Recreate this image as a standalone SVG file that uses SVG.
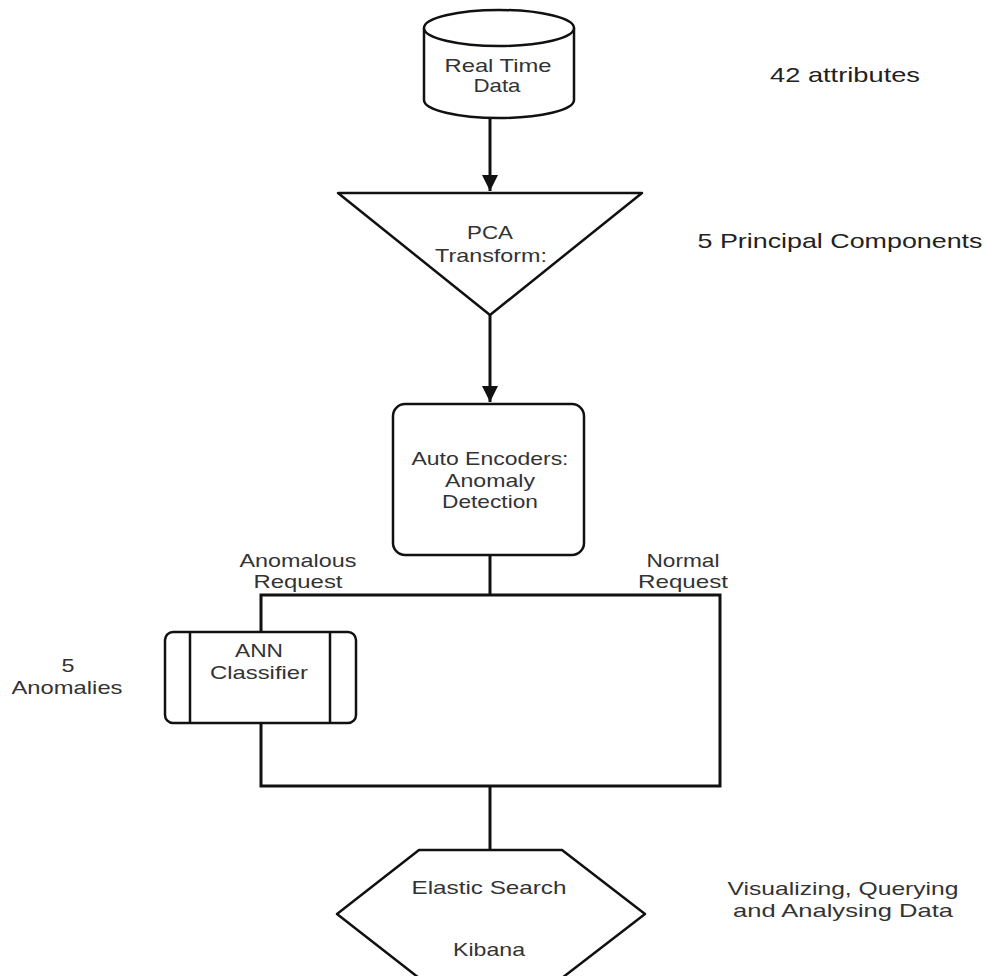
<svg xmlns="http://www.w3.org/2000/svg" width="987" height="976" viewBox="0 0 987 976">
<defs>
<style>
.shape{fill:#fff;stroke:#111;stroke-width:2.5;stroke-linejoin:round}
.conn{fill:none;stroke:#111;stroke-width:3}
text{font-family:"Liberation Sans",Arial,sans-serif;font-size:19px;fill:#333;text-anchor:middle}
.big{font-size:21px;fill:#222}
</style>
<marker id="arr" markerUnits="userSpaceOnUse" markerWidth="18" markerHeight="18" viewBox="0 0 18 18" refX="16" refY="9" orient="auto">
<path d="M0,1 L16,9 L0,17 z" fill="#111"/>
</marker>
</defs>
<rect width="987" height="976" fill="#fff"/>
<g id="connectors">
<path class="conn" d="M490,118 V191" marker-end="url(#arr)"/>
<path class="conn" d="M490,315 V402" marker-end="url(#arr)"/>
<path class="conn" d="M490,555 V595"/>
<path class="conn" d="M261,632 V595 H720 V786 H261 V723"/>
<path class="conn" d="M490,786 V850"/>
</g>
<g id="real-time-data">
<path class="shape" d="M424,28 A75,18 0 0,1 574,28 V100 A75,18 0 0,1 424,100 Z"/>
<path class="shape" fill="none" d="M424,28 A75,18 0 0,0 574,28"/>
<text x="498" y="72" textLength="107" lengthAdjust="spacingAndGlyphs">Real Time</text>
<text x="497" y="92" textLength="47" lengthAdjust="spacingAndGlyphs">Data</text>
</g>
<g id="pca">
<path class="shape" d="M338,193 H642 L490,315 Z"/>
<text x="490" y="239" textLength="46" lengthAdjust="spacingAndGlyphs">PCA</text>
<text x="491" y="262" textLength="112" lengthAdjust="spacingAndGlyphs">Transform:</text>
</g>
<g id="autoencoder">
<rect class="shape" x="393" y="404" width="191" height="151" rx="12"/>
<text x="490" y="465" textLength="157" lengthAdjust="spacingAndGlyphs">Auto Encoders:</text>
<text x="490" y="487" textLength="90" lengthAdjust="spacingAndGlyphs">Anomaly</text>
<text x="490" y="508" textLength="96" lengthAdjust="spacingAndGlyphs">Detection</text>
</g>
<g id="ann">
<rect class="shape" x="165" y="632" width="191" height="91" rx="8"/>
<line class="shape" x1="190" y1="632" x2="190" y2="723" stroke-width="2"/>
<line class="shape" x1="330" y1="632" x2="330" y2="723" stroke-width="2"/>
<text x="259" y="657" textLength="48" lengthAdjust="spacingAndGlyphs">ANN</text>
<text x="259" y="679" textLength="98" lengthAdjust="spacingAndGlyphs">Classifier</text>
</g>
<g id="elastic">
<path class="shape" d="M419,850 H562 L645,914 L562,978 H419 L337,914 Z"/>
<text x="489" y="894" textLength="155" lengthAdjust="spacingAndGlyphs">Elastic  Search</text>
<text x="489" y="956" textLength="72" lengthAdjust="spacingAndGlyphs">Kibana</text>
</g>
<g id="labels">
<text class="big" x="845" y="82" textLength="150" lengthAdjust="spacingAndGlyphs">42 attributes</text>
<text class="big" x="840" y="248" textLength="285" lengthAdjust="spacingAndGlyphs">5 Principal Components</text>
<text x="843" y="895" textLength="231" lengthAdjust="spacingAndGlyphs">Visualizing, Querying</text>
<text x="843" y="917" textLength="220" lengthAdjust="spacingAndGlyphs">and Analysing Data</text>
<text x="298" y="567" textLength="117" lengthAdjust="spacingAndGlyphs">Anomalous</text>
<text x="298" y="588" textLength="89" lengthAdjust="spacingAndGlyphs">Request</text>
<text x="683" y="567" textLength="73" lengthAdjust="spacingAndGlyphs">Normal</text>
<text x="683" y="588" textLength="90" lengthAdjust="spacingAndGlyphs">Request</text>
<text x="68" y="672" textLength="13" lengthAdjust="spacingAndGlyphs">5</text>
<text x="67" y="694" textLength="111" lengthAdjust="spacingAndGlyphs">Anomalies</text>
</g>
</svg>
